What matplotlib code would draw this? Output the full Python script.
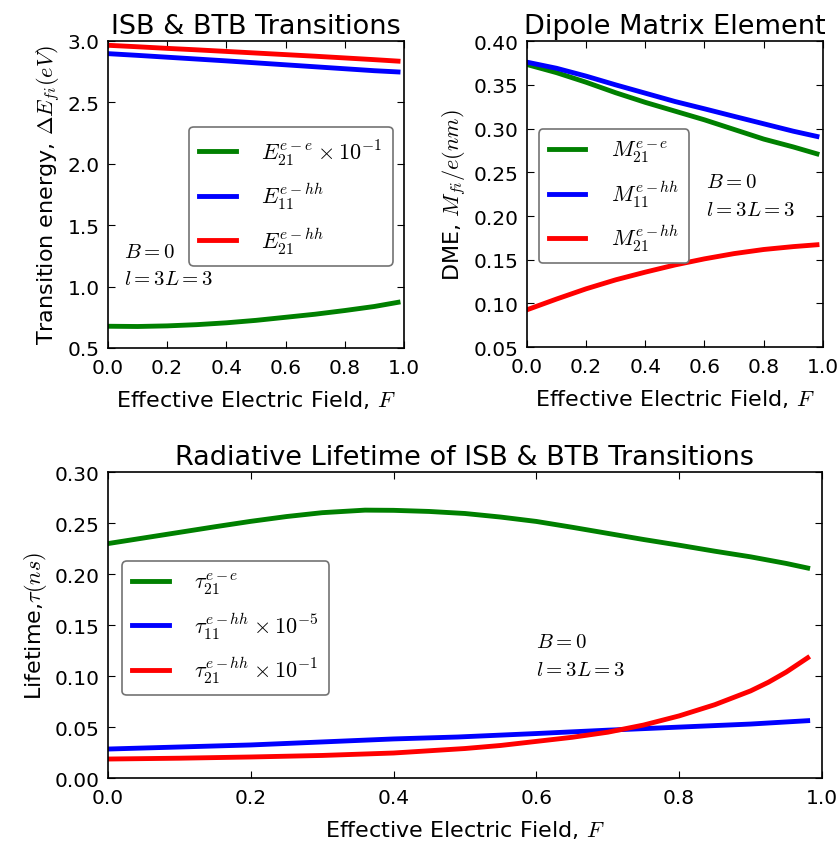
import numpy as np
import matplotlib
matplotlib.use('Agg')
import matplotlib.pyplot as plt

# Waarden
F_top = [0.0, 0.1, 0.2, 0.3, 0.4, 0.5, 0.6, 0.7, 0.8, 0.9, 0.98]

# Overgangsenergie (eV)
E21_ee = [0.677, 0.675, 0.680, 0.690, 0.705, 0.725, 0.750, 0.775, 0.805, 0.838, 0.872]
E11_ehh = [2.897, 2.883, 2.868, 2.853, 2.838, 2.822, 2.806, 2.790, 2.774, 2.758, 2.748]
E21_ehh = [2.965, 2.953, 2.940, 2.928, 2.915, 2.902, 2.889, 2.876, 2.862, 2.848, 2.836]

# Dipool matrix element (nm)
M21_ee = [0.3733, 0.364, 0.353, 0.341, 0.330, 0.320, 0.310, 0.299, 0.288, 0.279, 0.2711]
M11_ehh = [0.376, 0.369, 0.360, 0.350, 0.3405, 0.331, 0.3226, 0.314, 0.3055, 0.297, 0.291]
M21_ehh = [0.0927, 0.105, 0.1167, 0.127, 0.1358, 0.144, 0.151, 0.157, 0.1617, 0.165, 0.1671]

# Levensduur (ns)
F_groen = [0.0, 0.05, 0.1, 0.15, 0.2, 0.25, 0.3, 0.36, 0.4, 0.45, 0.5, 0.55, 0.6, 0.65,
           0.7, 0.75, 0.8, 0.85, 0.9, 0.95, 0.98]
tau21_ee = [0.230, 0.2355, 0.241, 0.2465, 0.2518, 0.2565, 0.2603, 0.2628, 0.2626, 0.2615,
            0.2595, 0.256, 0.2517, 0.246, 0.240, 0.234, 0.2284, 0.2225, 0.217, 0.2105, 0.206]
F_blauw = [0.0, 0.2, 0.4, 0.49, 0.6, 0.7, 0.8, 0.9, 0.98]
tau11_ehh = [0.0285, 0.0325, 0.0384, 0.0403, 0.0437, 0.047, 0.050, 0.053, 0.0563]
F_rood = [0.0, 0.1, 0.2, 0.3, 0.4, 0.5, 0.55, 0.6, 0.65, 0.7, 0.75, 0.8, 0.85, 0.9,
          0.925, 0.95, 0.98]
tau21_ehh = [0.0187, 0.0195, 0.0207, 0.0222, 0.0246, 0.029, 0.032, 0.036, 0.040, 0.045,
             0.052, 0.061, 0.072, 0.0855, 0.094, 0.104, 0.118]

plt.rcParams['mathtext.fontset'] = 'cm'
plt.rcParams['font.family'] = 'DejaVu Sans'
plt.rcParams['xtick.direction'] = 'in'
plt.rcParams['ytick.direction'] = 'in'
plt.rcParams['xtick.top'] = True
plt.rcParams['ytick.right'] = True
plt.rcParams['xtick.major.size'] = 5
plt.rcParams['ytick.major.size'] = 5
plt.rcParams['xtick.labelsize'] = 14.5
plt.rcParams['ytick.labelsize'] = 14.5
plt.rcParams['axes.linewidth'] = 1.2
plt.rcParams['xtick.major.pad'] = 7
plt.rcParams['ytick.major.pad'] = 6

groen = (0, 0.5, 0)
lw = 3.5

fig = plt.figure(figsize=(8.39, 8.45), dpi=100)
ax1 = fig.add_axes([0.1287, 0.587, 0.3528, 0.3633])
ax2 = fig.add_axes([0.628, 0.588, 0.3528, 0.3621])
ax3 = fig.add_axes([0.1287, 0.078, 0.851, 0.362])


def legenda(ax, x, y):
    leg = ax.legend(loc='upper left', bbox_to_anchor=(x, y), borderaxespad=0,
                    fontsize=16, fancybox=True, framealpha=1, labelspacing=0.65,
                    handlelength=1.65, handletextpad=1.15, borderpad=0.45)
    leg.get_frame().set_edgecolor('0.45')
    leg.get_frame().set_linewidth(1.2)


# ISB & BTB overgangen
ax1.plot(F_top, E21_ee, color=groen, lw=lw, label=r'$E_{21}^{e-e}\times 10^{-1}$')
ax1.plot(F_top, E11_ehh, color='b', lw=lw, label=r'$E_{11}^{e-hh}$')
ax1.plot(F_top, E21_ehh, color='r', lw=lw, label=r'$E_{21}^{e-hh}$')
ax1.set_xlim(0, 1)
ax1.set_ylim(0.5, 3.0)
ax1.set_xticks(np.arange(0, 1.01, 0.2))
ax1.set_title('ISB & BTB Transitions', fontsize=19.5)
ax1.set_xlabel(r'Effective Electric Field, $F$', fontsize=16, labelpad=8)
ax1.set_ylabel(r'Transition energy, $\Delta E_{fi}(eV)$', fontsize=16)
ax1.text(0.055, 1.29, r'$B=0$', fontsize=15, va='center')
ax1.text(0.055, 1.07, r'$l=3L=3$', fontsize=15, va='center')
legenda(ax1, 0.274, 0.72)

# Dipool matrix element
ax2.plot(F_top, M21_ee, color=groen, lw=lw, label=r'$M_{21}^{e-e}$')
ax2.plot(F_top, M11_ehh, color='b', lw=lw, label=r'$M_{11}^{e-hh}$')
ax2.plot(F_top, M21_ehh, color='r', lw=lw, label=r'$M_{21}^{e-hh}$')
ax2.set_xlim(0, 1)
ax2.set_ylim(0.05, 0.40)
ax2.set_xticks(np.arange(0, 1.01, 0.2))
ax2.set_title('Dipole Matrix Element', fontsize=19.5)
ax2.set_xlabel(r'Effective Electric Field, $F$', fontsize=16, labelpad=8)
ax2.set_ylabel(r'DME, $M_{fi}/e(nm)$', fontsize=16)
ax2.text(0.605, 0.24, r'$B=0$', fontsize=15, va='center')
ax2.text(0.605, 0.208, r'$l=3L=3$', fontsize=15, va='center')
legenda(ax2, 0.04, 0.712)

# Stralingslevensduur
ax3.plot(F_groen, tau21_ee, color=groen, lw=lw, label=r'$\tau_{21}^{e-e}$')
ax3.plot(F_blauw, tau11_ehh, color='b', lw=lw, label=r'$\tau_{11}^{e-hh}\times 10^{-5}$')
ax3.plot(F_rood, tau21_ehh, color='r', lw=lw, label=r'$\tau_{21}^{e-hh}\times 10^{-1}$')
ax3.set_xlim(0, 1)
ax3.set_ylim(0, 0.30)
ax3.set_xticks(np.arange(0, 1.01, 0.2))
ax3.set_title('Radiative Lifetime of ISB & BTB Transitions', fontsize=19.5)
ax3.set_xlabel(r'Effective Electric Field, $F$', fontsize=16, labelpad=8)
ax3.set_ylabel(r'Lifetime,$\tau(ns)$', fontsize=16)
ax3.text(0.60, 0.134, r'$B=0$', fontsize=15, va='center')
ax3.text(0.60, 0.107, r'$l=3L=3$', fontsize=15, va='center')
legenda(ax3, 0.02, 0.709)

fig.savefig('out.png', dpi=100)
